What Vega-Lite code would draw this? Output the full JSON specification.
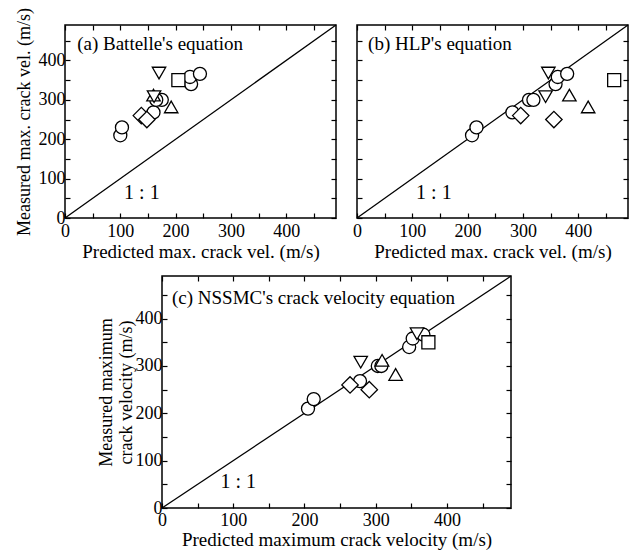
{
  "$schema": "https://vega.github.io/schema/vega-lite/v6.json",
  "background": "white",
  "padding": {"left": 14, "top": 6, "right": 0, "bottom": 0},
  "datasets": {
    "pts": [
      {"panel": "a", "group": "G1", "predicted": 100, "measured": 210},
      {"panel": "a", "group": "G1", "predicted": 103, "measured": 230},
      {"panel": "a", "group": "G1", "predicted": 160, "measured": 268},
      {"panel": "a", "group": "G1", "predicted": 175, "measured": 300},
      {"panel": "a", "group": "G1", "predicted": 165, "measured": 300},
      {"panel": "a", "group": "G1", "predicted": 228, "measured": 340},
      {"panel": "a", "group": "G1", "predicted": 226, "measured": 358},
      {"panel": "a", "group": "G1", "predicted": 244, "measured": 366},
      {"panel": "a", "group": "G2", "predicted": 138, "measured": 260},
      {"panel": "a", "group": "G2", "predicted": 148, "measured": 250},
      {"panel": "a", "group": "G3", "predicted": 160, "measured": 312},
      {"panel": "a", "group": "G3", "predicted": 192, "measured": 282},
      {"panel": "a", "group": "G4", "predicted": 161, "measured": 308},
      {"panel": "a", "group": "G4", "predicted": 170, "measured": 368},
      {"panel": "a", "group": "G5", "predicted": 205, "measured": 350},
      {"panel": "b", "group": "G1", "predicted": 208, "measured": 210},
      {"panel": "b", "group": "G1", "predicted": 216, "measured": 230},
      {"panel": "b", "group": "G1", "predicted": 281, "measured": 268},
      {"panel": "b", "group": "G1", "predicted": 311, "measured": 300},
      {"panel": "b", "group": "G1", "predicted": 319, "measured": 300},
      {"panel": "b", "group": "G1", "predicted": 359, "measured": 340},
      {"panel": "b", "group": "G1", "predicted": 363, "measured": 358},
      {"panel": "b", "group": "G1", "predicted": 380, "measured": 366},
      {"panel": "b", "group": "G2", "predicted": 296, "measured": 260},
      {"panel": "b", "group": "G2", "predicted": 356, "measured": 250},
      {"panel": "b", "group": "G3", "predicted": 384, "measured": 312},
      {"panel": "b", "group": "G3", "predicted": 418, "measured": 282},
      {"panel": "b", "group": "G4", "predicted": 341, "measured": 308},
      {"panel": "b", "group": "G4", "predicted": 346, "measured": 368},
      {"panel": "b", "group": "G5", "predicted": 465, "measured": 350},
      {"panel": "c", "group": "G1", "predicted": 205, "measured": 210},
      {"panel": "c", "group": "G1", "predicted": 213, "measured": 230},
      {"panel": "c", "group": "G1", "predicted": 278, "measured": 268},
      {"panel": "c", "group": "G1", "predicted": 303, "measured": 300},
      {"panel": "c", "group": "G1", "predicted": 308, "measured": 300},
      {"panel": "c", "group": "G1", "predicted": 347, "measured": 340},
      {"panel": "c", "group": "G1", "predicted": 352, "measured": 358},
      {"panel": "c", "group": "G1", "predicted": 367, "measured": 366},
      {"panel": "c", "group": "G2", "predicted": 264, "measured": 260},
      {"panel": "c", "group": "G2", "predicted": 291, "measured": 250},
      {"panel": "c", "group": "G3", "predicted": 309, "measured": 312},
      {"panel": "c", "group": "G3", "predicted": 328, "measured": 282},
      {"panel": "c", "group": "G4", "predicted": 279, "measured": 308},
      {"panel": "c", "group": "G4", "predicted": 358, "measured": 368},
      {"panel": "c", "group": "G5", "predicted": 374, "measured": 350}
    ],
    "one": [{}]
  },
  "config": {
    "view": {"stroke": "black", "strokeWidth": 1.5},
    "axis": {
      "labelFont": "Liberation Serif", "titleFont": "Liberation Serif",
      "labelFontSize": 18, "titleFontSize": 18, "titleFontWeight": "normal",
      "labelColor": "black", "titleColor": "black",
      "tickColor": "black", "tickSize": -5, "tickWidth": 1.2,
      "domain": false, "grid": false, "labelPadding": 7,
      "labelFlush": false, "labelOverlap": false
    },
    "text": {"font": "Liberation Serif", "color": "black"}
  },
  "spacing": 12,
  "vconcat": [
    {
      "spacing": 13,
      "hconcat": [
        {
          "width": 271, "height": 193,
          "layer": [
            {
              "data": {"name": "one"},
              "mark": {"type": "rule", "color": "black", "strokeWidth": 1.3},
              "encoding": {
                "x": {"datum": 0, "type": "quantitative", "scale": {"domain": [0, 490], "nice": false},
                      "axis": {"orient": "top", "labels": false, "title": null, "values": [0,50,100,150,200,250,300,350,400,450]}},
                "y": {"datum": 0, "type": "quantitative", "scale": {"domain": [0, 490], "nice": false},
                      "axis": {"orient": "right", "labels": false, "title": null, "values": [0,50,100,150,200,250,300,350,400,450]}},
                "x2": {"datum": 490}, "y2": {"datum": 490}
              }
            },
            {
              "data": {"name": "pts"},
              "transform": [{"filter": "datum.panel === 'a'"}],
              "mark": {"type": "point", "filled": true, "fill": "white", "stroke": "black", "strokeWidth": 1.3, "opacity": 1},
              "encoding": {
                "x": {"field": "predicted", "type": "quantitative", "scale": {"domain": [0, 490], "nice": false},
                      "axis": {"orient": "bottom", "values": [0,50,100,150,200,250,300,350,400,450], "labelExpr": "datum.value % 100 === 0 ? datum.label : ''", "labelPadding": 9, "title": "Predicted max. crack vel. (m/s)", "titleFontSize": 19, "titlePadding": 2}},
                "y": {"field": "measured", "type": "quantitative", "scale": {"domain": [0, 490], "nice": false},
                      "axis": {"orient": "left", "values": [0,50,100,150,200,250,300,350,400,450], "labelExpr": "datum.value % 100 === 0 ? datum.label : ''", "labelPadding": 5, "title": "Measured max. crack vel. (m/s)", "titlePadding": 5}},
                "shape": {"field": "group", "type": "nominal", "legend": null,
                          "scale": {"domain": ["G1", "G2", "G3", "G4", "G5"], "range": ["circle", "diamond", "triangle-up", "triangle-down", "square"]}},
                "size": {"field": "group", "type": "nominal", "legend": null,
                          "scale": {"type": "ordinal", "domain": ["G1", "G2", "G3", "G4", "G5"], "range": [170, 270, 180, 180, 170]}}
              }
            },
            {
              "data": {"name": "one"},
              "mark": {"type": "text", "fontSize": 20, "align": "center", "baseline": "middle", "text": "1 : 1"},
              "encoding": {
                "x": {"datum": 139, "type": "quantitative", "scale": {"domain": [0, 490], "nice": false}, "axis": null},
                "y": {"datum": 64, "type": "quantitative", "scale": {"domain": [0, 490], "nice": false}, "axis": null}
              }
            },
            {
              "data": {"name": "one"},
              "mark": {"type": "text", "fontSize": 19, "align": "left", "baseline": "middle", "text": "(a) Battelle's equation"},
              "encoding": {
                "x": {"datum": 22, "type": "quantitative", "scale": {"domain": [0, 490], "nice": false}, "axis": null},
                "y": {"datum": 442, "type": "quantitative", "scale": {"domain": [0, 490], "nice": false}, "axis": null}
              }
            }
          ]
        },
        {
          "width": 271, "height": 193,
          "layer": [
            {
              "data": {"name": "one"},
              "mark": {"type": "rule", "color": "black", "strokeWidth": 1.3},
              "encoding": {
                "x": {"datum": 0, "type": "quantitative", "scale": {"domain": [0, 490], "nice": false},
                      "axis": {"orient": "top", "labels": false, "title": null, "values": [0,50,100,150,200,250,300,350,400,450]}},
                "y": {"datum": 0, "type": "quantitative", "scale": {"domain": [0, 490], "nice": false},
                      "axis": {"orient": "right", "labels": false, "title": null, "values": [0,50,100,150,200,250,300,350,400,450]}},
                "x2": {"datum": 490}, "y2": {"datum": 490}
              }
            },
            {
              "data": {"name": "pts"},
              "transform": [{"filter": "datum.panel === 'b'"}],
              "mark": {"type": "point", "filled": true, "fill": "white", "stroke": "black", "strokeWidth": 1.3, "opacity": 1},
              "encoding": {
                "x": {"field": "predicted", "type": "quantitative", "scale": {"domain": [0, 490], "nice": false},
                      "axis": {"orient": "bottom", "values": [0,50,100,150,200,250,300,350,400,450], "labelExpr": "datum.value % 100 === 0 ? datum.label : ''", "labelPadding": 9, "title": "Predicted max. crack vel. (m/s)", "titleFontSize": 19, "titlePadding": 2}},
                "y": {"field": "measured", "type": "quantitative", "scale": {"domain": [0, 490], "nice": false},
                      "axis": {"orient": "left", "values": [0,50,100,150,200,250,300,350,400,450], "labels": false, "title": null}},
                "shape": {"field": "group", "type": "nominal", "legend": null,
                          "scale": {"domain": ["G1", "G2", "G3", "G4", "G5"], "range": ["circle", "diamond", "triangle-up", "triangle-down", "square"]}},
                "size": {"field": "group", "type": "nominal", "legend": null,
                          "scale": {"type": "ordinal", "domain": ["G1", "G2", "G3", "G4", "G5"], "range": [170, 270, 180, 180, 170]}}
              }
            },
            {
              "data": {"name": "one"},
              "mark": {"type": "text", "fontSize": 20, "align": "center", "baseline": "middle", "text": "1 : 1"},
              "encoding": {
                "x": {"datum": 139, "type": "quantitative", "scale": {"domain": [0, 490], "nice": false}, "axis": null},
                "y": {"datum": 64, "type": "quantitative", "scale": {"domain": [0, 490], "nice": false}, "axis": null}
              }
            },
            {
              "data": {"name": "one"},
              "mark": {"type": "text", "fontSize": 19, "align": "left", "baseline": "middle", "text": "(b) HLP's equation"},
              "encoding": {
                "x": {"datum": 20, "type": "quantitative", "scale": {"domain": [0, 490], "nice": false}, "axis": null},
                "y": {"datum": 442, "type": "quantitative", "scale": {"domain": [0, 490], "nice": false}, "axis": null}
              }
            }
          ]
        }
      ]
    },
    {
      "spacing": 0,
      "hconcat": [
        {
          "width": 31, "height": 10,
          "view": {"stroke": null},
          "data": {"name": "one"},
          "mark": {"type": "text", "text": ""},
          "encoding": {}
        },
        {
          "width": 349, "height": 232,
          "layer": [
            {
              "data": {"name": "one"},
              "mark": {"type": "rule", "color": "black", "strokeWidth": 1.3},
              "encoding": {
                "x": {"datum": 0, "type": "quantitative", "scale": {"domain": [0, 490], "nice": false},
                      "axis": {"orient": "top", "labels": false, "title": null, "values": [0,50,100,150,200,250,300,350,400,450]}},
                "y": {"datum": 0, "type": "quantitative", "scale": {"domain": [0, 490], "nice": false},
                      "axis": {"orient": "right", "labels": false, "title": null, "values": [0,50,100,150,200,250,300,350,400,450]}},
                "x2": {"datum": 490}, "y2": {"datum": 490}
              }
            },
            {
              "data": {"name": "pts"},
              "transform": [{"filter": "datum.panel === 'c'"}],
              "mark": {"type": "point", "filled": true, "fill": "white", "stroke": "black", "strokeWidth": 1.3, "opacity": 1},
              "encoding": {
                "x": {"field": "predicted", "type": "quantitative", "scale": {"domain": [0, 490], "nice": false},
                      "axis": {"orient": "bottom", "values": [0,50,100,150,200,250,300,350,400,450], "labelExpr": "datum.value % 100 === 0 ? datum.label : ''", "labelPadding": 8, "title": "Predicted maximum crack velocity (m/s)", "titleFontSize": 19, "titlePadding": 1}},
                "y": {"field": "measured", "type": "quantitative", "scale": {"domain": [0, 490], "nice": false},
                      "axis": {"orient": "left", "values": [0,50,100,150,200,250,300,350,400,450], "labelExpr": "datum.value % 100 === 0 ? datum.label : ''", "labelPadding": 5, "title": ["Measured maximum", "crack velocity (m/s)"], "titlePadding": 0, "titleLineHeight": 20}},
                "shape": {"field": "group", "type": "nominal", "legend": null,
                          "scale": {"domain": ["G1", "G2", "G3", "G4", "G5"], "range": ["circle", "diamond", "triangle-up", "triangle-down", "square"]}},
                "size": {"field": "group", "type": "nominal", "legend": null,
                          "scale": {"type": "ordinal", "domain": ["G1", "G2", "G3", "G4", "G5"], "range": [190, 290, 200, 200, 190]}}
              }
            },
            {
              "data": {"name": "one"},
              "mark": {"type": "text", "fontSize": 20, "align": "center", "baseline": "middle", "text": "1 : 1"},
              "encoding": {
                "x": {"datum": 107, "type": "quantitative", "scale": {"domain": [0, 490], "nice": false}, "axis": null},
                "y": {"datum": 54, "type": "quantitative", "scale": {"domain": [0, 490], "nice": false}, "axis": null}
              }
            },
            {
              "data": {"name": "one"},
              "mark": {"type": "text", "fontSize": 19, "align": "left", "baseline": "middle", "text": "(c) NSSMC's crack velocity equation"},
              "encoding": {
                "x": {"datum": 14, "type": "quantitative", "scale": {"domain": [0, 490], "nice": false}, "axis": null},
                "y": {"datum": 444, "type": "quantitative", "scale": {"domain": [0, 490], "nice": false}, "axis": null}
              }
            }
          ]
        }
      ]
    }
  ]
}
